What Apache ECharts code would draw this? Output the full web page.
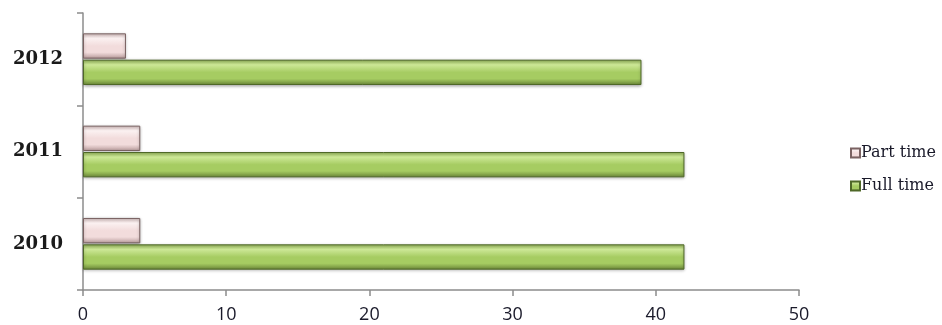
<!DOCTYPE html>
<html>
<head>
<meta charset="utf-8">
<script src="https://cdn.jsdelivr.net/npm/echarts@6/dist/echarts.min.js"></script>
<style>
  html, body { margin: 0; padding: 0; background: #ffffff; }
  #chart { width: 942px; height: 325px; }
</style>
</head>
<body>
<div id="chart"></div>
<script>
// Employment by year: full time vs part time
var years = ['2010', '2011', '2012'];
var fullTime = [42, 42, 39];
var partTime = [4, 4, 3];
var xTicks = { min: 0, max: 50, interval: 10 };

// vertical gradient giving the bars a bevelled look
function bevel(top, light, mid, bottom) {
  return new echarts.graphic.LinearGradient(0, 0, 0, 1, [
    { offset: 0, color: top },
    { offset: 0.2, color: light },
    { offset: 0.5, color: mid },
    { offset: 0.75, color: mid },
    { offset: 1, color: bottom }
  ]);
}

var chart = echarts.init(document.getElementById('chart'), null, { renderer: 'canvas' });
chart.setOption({
  animation: false,
  backgroundColor: '#ffffff',
  grid: { left: 83, right: 143, top: 13, bottom: 35, containLabel: false },
  legend: {
    orient: 'vertical',
    left: 845,
    top: 140,
    itemWidth: 9,
    itemHeight: 9,
    itemGap: 17,
    icon: 'rect',
    data: ['Part time', 'Full time'],
    textStyle: { fontFamily: 'DejaVu Serif', fontSize: 16, color: '#1a1a2a', padding: [0, 0, 0, -4] }
  },
  xAxis: {
    type: 'value',
    min: xTicks.min,
    max: xTicks.max,
    interval: xTicks.interval,
    axisLine: { show: true, lineStyle: { color: '#8c8c8c', width: 1.5 } },
    axisTick: { show: true, length: 6, lineStyle: { color: '#8c8c8c', width: 1.5 } },
    splitLine: { show: false },
    axisLabel: { fontFamily: 'Open Sans', fontSize: 18, color: '#1a1a2a', margin: 16 }
  },
  yAxis: {
    type: 'category',
    data: years,
    axisLine: { show: true, lineStyle: { color: '#8c8c8c', width: 1.5 } },
    axisTick: { show: true, length: 6, lineStyle: { color: '#8c8c8c', width: 1.5 } },
    axisLabel: { fontFamily: 'DejaVu Serif', fontWeight: 'bold', fontSize: 18, color: '#1a1a1a', margin: 20 }
  },
  series: [
    {
      name: 'Part time',
      type: 'bar',
      data: partTime,
      barCategoryGap: '44%',
      barGap: '4%',
      itemStyle: {
        color: bevel('#d9c2c2', '#fbf1f1', '#f2dcdc', '#b79a9a'),
        borderColor: '#7a6262',
        borderWidth: 1,
        shadowBlur: 3,
        shadowColor: 'rgba(0,0,0,0.3)',
        shadowOffsetY: 1
      }
    },
    {
      name: 'Full time',
      type: 'bar',
      data: fullTime,
      itemStyle: {
        color: bevel('#94b558', '#cde897', '#a6cc62', '#6a8638'),
        borderColor: '#4f6828',
        borderWidth: 1,
        shadowBlur: 3,
        shadowColor: 'rgba(0,0,0,0.3)',
        shadowOffsetY: 1
      }
    }
  ]
});
</script>
</body>
</html>
